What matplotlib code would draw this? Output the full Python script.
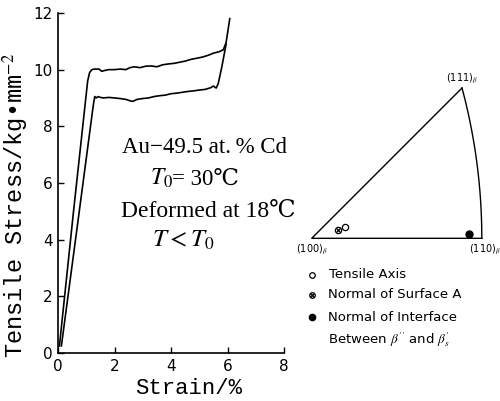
import matplotlib
matplotlib.use("Agg")
import matplotlib.pyplot as plt
import numpy as np

plt.rcParams["mathtext.fontset"] = "stix"

# stress-strain curves, Au-49.5 at.% Cd deformed at 18 C
upper_strain = [0.05, 0.55, 1.05, 1.12, 1.2, 1.3, 1.45, 1.55, 1.65, 1.8, 2.0, 2.2, 2.4,
                2.55, 2.7, 2.9, 3.1, 3.3, 3.5, 3.7, 3.9, 4.1, 4.3, 4.5, 4.7, 4.9,
                5.1, 5.3, 5.5, 5.7, 5.85, 5.95, 6.08]
upper_stress = [0.25, 5.0, 9.6, 9.9, 10.0, 10.02, 10.02, 9.94, 9.97, 10.0, 10.0, 10.02, 10.0,
                10.07, 10.1, 10.07, 10.12, 10.13, 10.1, 10.17, 10.2, 10.22, 10.26, 10.3, 10.36, 10.4,
                10.44, 10.5, 10.58, 10.63, 10.7, 10.95, 11.8]

lower_strain = [0.12, 0.7, 1.25, 1.3, 1.35, 1.42, 1.5, 1.6, 1.8, 2.0, 2.2, 2.4, 2.55,
                2.65, 2.8, 3.0, 3.2, 3.4, 3.6, 3.8, 4.0, 4.2, 4.4, 4.6, 4.8, 5.0,
                5.2, 5.4, 5.5, 5.6, 5.67, 5.8, 5.95]
lower_stress = [0.25, 4.6, 8.75, 9.05, 9.0, 9.05, 9.02, 9.0, 9.02, 9.0, 8.98, 8.95, 8.9,
                8.88, 8.95, 8.98, 9.0, 9.05, 9.08, 9.1, 9.15, 9.17, 9.2, 9.23, 9.25, 9.28,
                9.3, 9.36, 9.42, 9.35, 9.5, 10.1, 10.9]

x_ticks = [0, 2, 4, 6, 8]
y_ticks = [0, 2, 4, 6, 8, 10, 12]

# stereographic triangle corners (Miller indices)
poles = [(1, 0, 0), (1, 1, 0), (1, 1, 1)]
pole_labels = ["(100)$_\\beta$", "(110)$_\\beta$", "(111)$_\\beta$"]

# measured orientations, projected coordinates
tensile_axis = (0.081, 0.027)
surface_a = (0.065, 0.020)
interface = (0.383, 0.010)


def stereo(h, k, l):
    d = np.array([h, k, l], dtype=float)
    d /= np.linalg.norm(d)
    return d[1] / (1 + d[0]), d[2] / (1 + d[0])


fig = plt.figure(figsize=(5, 4.01), dpi=100)
ax = fig.add_axes([0.116, 0.1197, 0.452, 0.848])

ax.plot(upper_strain, upper_stress, color="black", lw=1.2, clip_on=False)
ax.plot(lower_strain, lower_stress, color="black", lw=1.2, clip_on=False)

ax.set_xlim(0, 8)
ax.set_ylim(0, 12)
ax.set_xticks(x_ticks)
ax.set_yticks(y_ticks)
for s in ["top", "right"]:
    ax.spines[s].set_visible(False)
for s in ["left", "bottom"]:
    ax.spines[s].set_linewidth(1.2)
ax.tick_params(direction="in", length=4, width=1, labelsize=11, pad=4)

fig.text(16 / 500, 1 - 205 / 401, "Tensile Stress/kg\u2022mm$^{-2}$",
         rotation=90, ha="center", va="center", family="Liberation Mono", fontsize=17)
fig.text(189 / 500, 1 - 389 / 401, "Strain/%", ha="center", va="center",
         family="Liberation Mono", fontsize=16)

serif = ["Liberation Serif", "DejaVu Serif"]
fig.text(122 / 500, 1 - 153 / 401, "Au\u221249.5 at.\u2009% Cd", family=serif, fontsize=16.5,
         va="baseline")
fig.text(150 / 500, 1 - 185 / 401, "$T_0$", family=serif, fontsize=17, va="baseline")
fig.text(172 / 500, 1 - 185 / 401, "= 30\u2103", family=serif, fontsize=16.5, va="baseline")
fig.text(121 / 500, 1 - 217 / 401, "Deformed at 18\u2103", family=serif, fontsize=17,
         va="baseline")
fig.text(152 / 500, 1 - 247 / 401, "$T < T_0$", family=serif, fontsize=18, va="baseline")

# inset: stereographic triangle and legend
ins = fig.add_axes([0.5742, 0.1190, 0.427, 0.6963])
ins.set_xlim(-0.06, 0.46)
ins.set_ylim(-0.28, 0.40)
ins.axis("off")

corners = [stereo(*p) for p in poles]
t = np.linspace(0, 1, 50)
arc = np.array([stereo(1, 1, v) for v in t])
ins.plot([corners[2][0], corners[0][0], corners[1][0]],
         [corners[2][1], corners[0][1], corners[1][1]], color="black", lw=1.0)
ins.plot(arc[:, 0], arc[:, 1], color="black", lw=1.0)

ins.text(corners[0][0], corners[0][1] - 0.012, pole_labels[0], ha="center", va="top", fontsize=7)
ins.text(corners[1][0] + 0.008, corners[1][1] - 0.012, pole_labels[1], ha="center", va="top",
         fontsize=7)
ins.text(corners[2][0], corners[2][1] + 0.006, pole_labels[2], ha="center", va="bottom",
         fontsize=7)

ins.plot(*tensile_axis, "o", ms=4.5, mfc="white", mec="black", mew=0.9)
ins.plot(*surface_a, "o", ms=4.5, mfc="white", mec="black", mew=0.9)
ins.plot(*surface_a, "x", ms=3.5, color="black", mew=0.9)
ins.plot(*interface, "o", ms=5, color="black")

leg_x = 0.0
leg_y = [-0.089, -0.138, -0.192]
ins.plot(leg_x, leg_y[0], "o", ms=4, mfc="white", mec="black", mew=0.9)
ins.plot(leg_x, leg_y[1], "o", ms=4, mfc="white", mec="black", mew=0.9)
ins.plot(leg_x, leg_y[1], "x", ms=3, color="black", mew=0.9)
ins.plot(leg_x, leg_y[2], "o", ms=4.5, color="black")

ins.text(0.042, leg_y[0], "Tensile Axis", va="center", fontsize=9.5)
ins.text(0.040, leg_y[1], "Normal of Surface A", va="center", fontsize=9.5)
ins.text(0.040, leg_y[2], "Normal of Interface", va="center", fontsize=9.5)
ins.text(0.040, -0.248, "Between $\\beta^{\\prime\\prime}$ and $\\beta^{\\prime}_{s}$",
         va="center", fontsize=9.5)

fig.savefig("out.png", dpi=100)
